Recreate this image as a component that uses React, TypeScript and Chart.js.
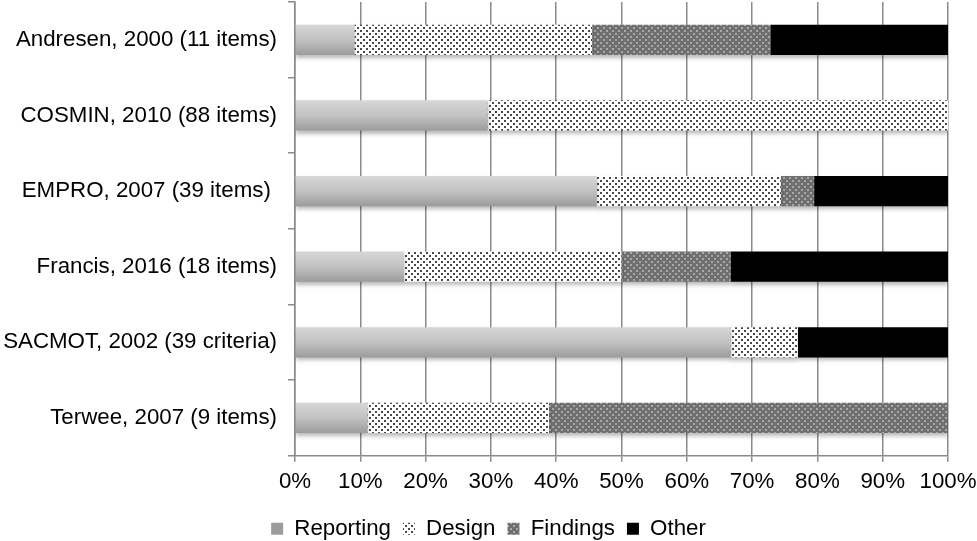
import React, { useEffect, useRef } from "react";
import { Chart, registerables } from "chart.js";

Chart.register(...registerables);

const categories = [
  "Andresen, 2000 (11 items)",
  "COSMIN, 2010 (88 items)",
  "EMPRO, 2007 (39 items) ",
  "Francis, 2016 (18 items)",
  "SACMOT, 2002 (39 criteria)",
  "Terwee, 2007 (9 items)",
];
const reporting = [9.1, 29.5, 46.2, 16.7, 66.7, 11.1];
const design = [36.4, 70.5, 28.2, 33.3, 10.3, 27.8];
const findings = [27.3, 0, 5.1, 16.7, 0, 61.1];
const other = [27.2, 0, 20.5, 33.3, 23.0, 0];
const xTicks = [0, 10, 20, 30, 40, 50, 60, 70, 80, 90, 100];

function makeDots(bg: string, dot: string): CanvasPattern | string {
  const c = document.createElement("canvas");
  c.width = 6;
  c.height = 6;
  const g = c.getContext("2d");
  if (!g) return bg;
  g.fillStyle = bg;
  g.fillRect(0, 0, 6, 6);
  g.fillStyle = dot;
  g.fillRect(0, 0, 2, 2);
  g.fillRect(3, 3, 2, 2);
  const ctx = document.createElement("canvas").getContext("2d");
  return (ctx && ctx.createPattern(c, "repeat")) || bg;
}

export default function App() {
  const ref = useRef<HTMLCanvasElement>(null);
  useEffect(() => {
    if (!ref.current) return;
    const designPat = makeDots("#ffffff", "#4a4a4a");
    const findPat = makeDots("#6f6f6f", "#a8a8a8");
    const reportingFill = (c: any) => {
      if (c.type !== "data" || !c.chart.scales || !c.chart.scales.y) return "#c4c4c4";
      const y = c.chart.scales.y;
      const yc = y.getPixelForValue(c.dataIndex);
      if (!isFinite(yc)) return "#c4c4c4";
      const g = c.chart.ctx.createLinearGradient(0, yc - 15, 0, yc + 15);
      g.addColorStop(0, "#d6d6d6");
      g.addColorStop(0.5, "#c2c2c2");
      g.addColorStop(1, "#9c9c9c");
      return g;
    };
    const shadow = {
      id: "shadow",
      beforeDatasetsDraw(chart: any) {
        const ctx = chart.ctx;
        ctx.save();
        ctx.shadowColor = "rgba(0,0,0,0.28)";
        ctx.shadowBlur = 4;
        ctx.shadowOffsetY = 3;
      },
      afterDatasetsDraw(chart: any) {
        chart.ctx.restore();
      },
    };
    const font = { family: "'Liberation Sans', Arial, sans-serif", size: 22.3 };
    const chart = new Chart(ref.current, {
      type: "bar",
      data: {
        labels: categories,
        datasets: [
          { label: "Reporting", data: reporting, backgroundColor: reportingFill as any },
          { label: "Design", data: design, backgroundColor: designPat as any },
          { label: "Findings", data: findings, backgroundColor: findPat as any },
          { label: "Other", data: other, backgroundColor: "#000000" },
        ],
      },
      options: {
        indexAxis: "y",
        animation: false,
        responsive: true,
        maintainAspectRatio: false,
        datasets: { bar: { barPercentage: 0.4, categoryPercentage: 1, borderWidth: 0 } },
        layout: { padding: { left: 0, top: 2, right: 0, bottom: -9 } },
        scales: {
          x: {
            stacked: true,
            min: 0,
            max: 100,
            afterBuildTicks: (axis: any) => {
              axis.ticks = xTicks.map((v) => ({ value: v }));
            },
            afterFit: (axis: any) => {
              axis.paddingLeft = 0;
              axis.paddingRight = 29;
              axis.height = 50;
            },
            ticks: {
              callback: (v: any) => v + "%",
              color: "#000",
              font,
              padding: 7,
              maxRotation: 0,
            },
            grid: { color: "#8a8a8a", lineWidth: 1.5, tickLength: 6, drawTicks: true },
            border: { color: "#8a8a8a", width: 1.5 },
          },
          y: {
            stacked: true,
            afterFit: (axis: any) => {
              axis.paddingTop = 0;
              axis.paddingBottom = 0;
              axis.width = 295;
            },
            ticks: { color: "#000", font, padding: 11 },
            grid: { offset: true, drawOnChartArea: false, color: "#8a8a8a", lineWidth: 1.5, tickLength: 7 },
            border: { color: "#8a8a8a", width: 1.5 },
          },
        },
        plugins: {
          legend: {
            position: "bottom",
            labels: { font, color: "#000", boxWidth: 12, boxHeight: 12, padding: 12 },
          },
          tooltip: { enabled: false },
        },
      },
      plugins: [shadow],
    });
    return () => chart.destroy();
  }, []);
  return (
    <div style={{ position: "fixed", left: 0, top: 0, width: 977, height: 541, background: "#fff" }}>
      <canvas ref={ref} />
    </div>
  );
}
